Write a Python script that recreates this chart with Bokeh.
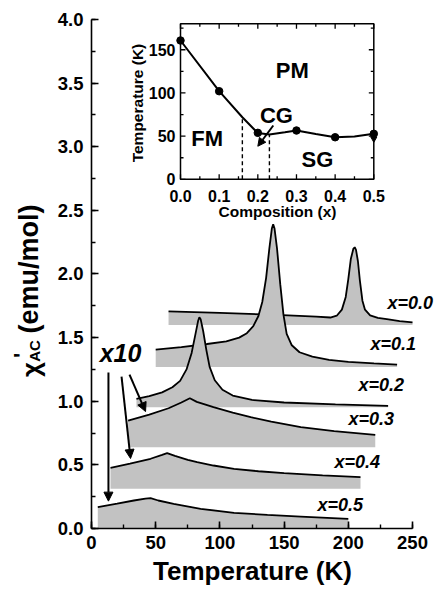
import math
from bokeh.plotting import figure
from bokeh.models import (Range1d, SingleIntervalTicker, PrintfTickFormatter, Label,
                          Arrow, NormalHead, ColumnDataSource)
from bokeh.embed import file_html
from bokeh.resources import INLINE
from bokeh.core.properties import value

FONT = "Liberation Sans"
GRAY = "#c2c2c2"

# ---------------- main panel data: chi'_AC vs Temperature ----------------
names = ["x=0.0", "x=0.1", "x=0.2", "x=0.3", "x=0.4", "x=0.5"]

T_00 = [60, 100, 140, 175, 186, 191, 195, 198, 200, 202, 204, 205, 206, 207.5, 209, 211, 213, 217, 223, 230, 240, 250]
chi_00 = [1.707, 1.694, 1.68, 1.665, 1.658, 1.672, 1.72, 1.82, 1.96, 2.12, 2.2, 2.21, 2.19, 2.1, 1.95, 1.79, 1.72, 1.675, 1.655, 1.645, 1.63, 1.62]

T_01 = [50, 70, 90, 105, 115, 121, 126, 130, 133, 136, 138.5, 140.5, 141.5, 142.5, 144.5, 147, 149.5, 152, 156, 162, 172, 185, 200, 220, 238]
chi_01 = [1.406, 1.425, 1.45, 1.47, 1.50, 1.535, 1.59, 1.67, 1.78, 1.97, 2.2, 2.36, 2.39, 2.36, 2.2, 1.92, 1.68, 1.53, 1.44, 1.385, 1.35, 1.325, 1.31, 1.298, 1.288]

T_02 = [35, 45, 55, 63, 69, 74, 78, 81, 83, 84, 85, 87, 89.5, 92, 96, 102, 110, 125, 150, 190, 231]
chi_02 = [1.019, 1.04, 1.07, 1.11, 1.16, 1.25, 1.38, 1.53, 1.63, 1.66, 1.645, 1.55, 1.40, 1.27, 1.165, 1.09, 1.045, 1.01, 0.99, 0.975, 0.964]

T_03 = [28.5, 45, 60, 70, 76.6, 82, 95, 110, 124, 140, 163, 189, 221]
chi_03 = [0.848, 0.895, 0.945, 0.99, 1.024, 0.995, 0.953, 0.91, 0.875, 0.84, 0.796, 0.765, 0.736]

T_04 = [14.8, 30, 46, 55, 58.9, 65, 75, 82.3, 95, 111, 130, 150, 180, 209.5]
chi_04 = [0.477, 0.51, 0.548, 0.578, 0.592, 0.57, 0.54, 0.521, 0.495, 0.469, 0.45, 0.435, 0.418, 0.403]

T_05 = [4.9, 20, 33, 42, 46, 52, 64, 85, 111, 137, 163, 200]
chi_05 = [0.168, 0.195, 0.22, 0.235, 0.238, 0.22, 0.194, 0.155, 0.123, 0.107, 0.094, 0.076]

baselines = [1.60, 1.27, 0.953, 0.639, 0.312, 0.0]

# curve labels (left edge T, centre chi)
label_T = [230.5, 217.3, 207.9, 200.2, 189.3, 176.0]
label_chi = [1.772, 1.451, 1.129, 0.862, 0.521, 0.181]

# "x10" arrows (start T, start chi, end T, end chi)
arr_T0 = [13.2, 23.4, 29.6]
arr_c0 = [1.226, 1.194, 1.21]
arr_T1 = [13.2, 30.4, 42.1]
arr_c1 = [0.215, 0.55, 0.919]

# ---------------- inset data: phase diagram ----------------
comp = [0.0, 0.1, 0.2, 0.3, 0.4, 0.5]
Tc = [160.7, 102, 53.8, 56.5, 48.7, 52.7]
line_comp = [0.0, 0.1, 0.16, 0.2, 0.23, 0.27, 0.3, 0.35, 0.4, 0.45, 0.5]
line_T = [160.7, 102, 71.9, 53.5, 52.0, 54.5, 56.5, 52.5, 48.7, 49.5, 52.7]
tri_comp = [0.5]
tri_T = [46.9]
dash_comp = [0.16, 0.23]
dash_top = [71.9, 52.0]
phase_names = ["PM", "CG", "FM", "SG"]
phase_x = [0.289, 0.248, 0.069, 0.354]
phase_y = [126, 73.9, 46.9, 22.6]
inset_xticks = [0.0, 0.1, 0.2, 0.3, 0.4, 0.5]
inset_xlabels = ["0.0", "0.1", "0.2", "0.3", "0.4", "0.5"]
inset_xminor = [0.05, 0.15, 0.25, 0.35, 0.45]
inset_yticks = [0, 50, 100, 150]
inset_ylabels = ["0", "50", "100", "150"]
inset_yminor = [25, 75, 125, 175]

# ---------------- figure ----------------
# The frame fills the whole canvas; the axes sit at fixed data locations
p = figure(width=435, height=589, output_backend="svg", toolbar_location=None,
           title=None, x_range=Range1d(-70.87, 267.91), y_range=Range1d(-0.4794, 4.1493),
           min_border=0, min_border_left=0, min_border_right=0,
           min_border_top=0, min_border_bottom=0)
p.outline_line_color = None
p.xgrid.visible = False
p.ygrid.visible = False
p.background_fill_color = "white"
p.border_fill_color = "white"

p.extra_x_ranges = {"ix": Range1d(-0.4656, 0.6596)}
p.extra_y_ranges = {"iy": Range1d(-474.8, 207.0)}

xa, ya = p.xaxis[0], p.yaxis[0]
xa.fixed_location = 0
xa.bounds = (0, 250)
ya.fixed_location = 0
ya.bounds = (0, 4.0)
for ax in (xa, ya):
    ax.axis_line_width = 1.6
    ax.major_tick_in = 7
    ax.major_tick_out = 0
    ax.minor_tick_in = 4
    ax.minor_tick_out = 0
    ax.major_tick_line_width = 1.6
    ax.minor_tick_line_width = 1.4
    ax.major_label_text_font = FONT
    ax.major_label_text_font_style = "bold"
    ax.major_label_text_font_size = "18.5px"
    ax.major_label_text_color = "black"
    ax.axis_label = None

xa.ticker = SingleIntervalTicker(interval=50, num_minor_ticks=2)
ya.ticker = SingleIntervalTicker(interval=0.5, num_minor_ticks=2)
ya.formatter = PrintfTickFormatter(format="%.1f")
xa.major_label_standoff = 8
ya.major_label_standoff = 8

# curves, top to bottom so lower curves' shading sits over upper ones
Ts = [T_00, T_01, T_02, T_03, T_04, T_05]
chis = [chi_00, chi_01, chi_02, chi_03, chi_04, chi_05]
for T, c, b in zip(Ts, chis, baselines):
    src = ColumnDataSource(dict(x=T, y=c, b=[b] * len(T)))
    p.varea(x="x", y1="b", y2="y", source=src, fill_color=GRAY)
    p.line(x="x", y="y", source=src, line_color="black", line_width=1.8)


def dlabel(x, y, text, size, style="bold", angle=0.0, align="center",
           baseline="middle", **kw):
    p.add_layout(Label(x=x, y=y, text=text, angle=angle, text_font=FONT,
                       text_font_style=style, text_font_size=size,
                       text_color="black", text_align=align,
                       text_baseline=baseline, **kw))


p.text(x=label_T, y=label_chi, text=names, text_font=value(FONT),
       text_font_style="bold italic", text_font_size="18px", text_color="black",
       text_align="left", text_baseline="middle")

dlabel(22.6, 1.383, "x10", "25px", style="bold italic")

for a, b, c, d in zip(arr_T0, arr_c0, arr_T1, arr_c1):
    p.add_layout(Arrow(x_start=a, y_start=b, x_end=c, y_end=d, line_width=2,
                       end=NormalHead(size=9, fill_color="black", line_color="black")))

# axis titles
dlabel(125.4, -0.332, "Temperature (K)", "26px")
dlabel(-48.3, 2.039, "(emu/mol)", "27px", angle=math.pi / 2)
dlabel(-47.3, 1.25, "χ", "26px", angle=math.pi / 2)
dlabel(-54.5, 1.36, "'", "22px", angle=math.pi / 2)
dlabel(-44.6, 1.395, "AC", "15px", angle=math.pi / 2)

# ---------------- inset ----------------
R = dict(x_range_name="ix", y_range_name="iy")
p.quad(left=[0], right=[0.5], bottom=[0], top=[180], fill_color="white",
       line_color="black", line_width=1.5, **R)

mj_x, mj_y, mn_x, mn_y = 0.0129, 5.8, 0.0078, 3.5
x0s, y0s, x1s, y1s = [], [], [], []
for t in inset_xticks:
    x0s += [t, t]; y0s += [0, 180]; x1s += [t, t]; y1s += [mj_y, 180 - mj_y]
for t in inset_xminor:
    x0s += [t, t]; y0s += [0, 180]; x1s += [t, t]; y1s += [mn_y, 180 - mn_y]
for t in inset_yticks:
    x0s += [0, 0.5]; y0s += [t, t]; x1s += [mj_x, 0.5 - mj_x]; y1s += [t, t]
for t in inset_yminor:
    x0s += [0, 0.5]; y0s += [t, t]; x1s += [mn_x, 0.5 - mn_x]; y1s += [t, t]
p.segment(x0=x0s, y0=y0s, x1=x1s, y1=y1s, line_color="black", line_width=1.3, **R)

p.text(x=inset_xticks, y=[-19.5] * len(inset_xticks), text=inset_xlabels,
       text_font=value(FONT), text_font_style="bold", text_font_size="16px",
       text_color="black", text_align="center", text_baseline="middle", **R)
p.text(x=[-0.0129] * len(inset_yticks), y=inset_yticks, text=inset_ylabels,
       text_font=value(FONT), text_font_style="bold", text_font_size="16px",
       text_color="black", text_align="right", text_baseline="middle", **R)

dlabel(0.2509, -36.7, "Composition (x)", "15.5px", **R)
dlabel(-0.1104, 88.3, "Temperature (K)", "15.5px", angle=math.pi / 2, **R)

p.segment(x0=dash_comp, y0=[0, 0], x1=dash_comp, y1=dash_top,
          line_color="black", line_width=1.4, line_dash="4 3", **R)
p.line(x=line_comp, y=line_T, line_color="black", line_width=2, **R)
p.scatter(x=comp, y=Tc, size=7.5, fill_color="black", line_color="black", **R)
p.scatter(x=tri_comp, y=tri_T, marker="inverted_triangle", size=6,
          fill_color="black", line_color="black", **R)

p.text(x=phase_x, y=phase_y, text=phase_names, text_font=value(FONT),
       text_font_style="bold", text_font_size="22px", text_color="black",
       text_align="center", text_baseline="middle", **R)

p.add_layout(Arrow(x_start=0.240, y_start=62.3, x_end=0.200, y_end=38.3, line_width=2,
                   end=NormalHead(size=8, fill_color="black", line_color="black"), **R))

open("out.html", "w").write(file_html(p, INLINE))
